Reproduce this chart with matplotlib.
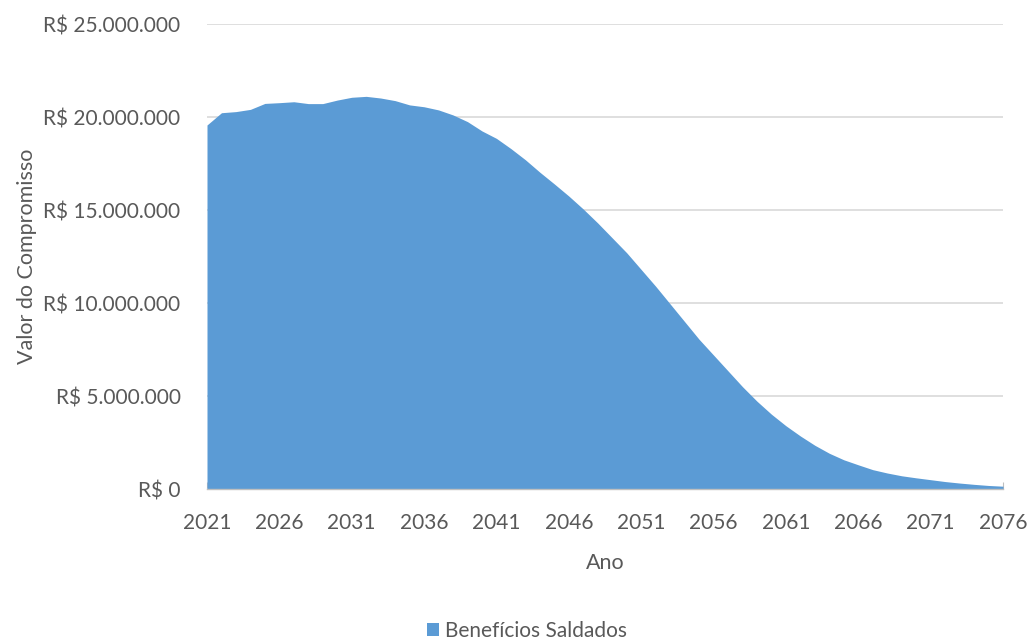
import matplotlib
matplotlib.use("Agg")
import matplotlib.pyplot as plt
from matplotlib.ticker import FuncFormatter, MultipleLocator
from matplotlib.patches import Patch

years = list(range(2021, 2077))
valores = [
    19.57, 20.23, 20.29, 20.41, 20.73, 20.77, 20.82, 20.72, 20.72, 20.91,
    21.06, 21.11, 21.02, 20.88, 20.65, 20.55, 20.38, 20.11, 19.75, 19.25,
    18.85, 18.30, 17.70, 17.03, 16.40, 15.75, 15.05, 14.30, 13.50, 12.70,
    11.80, 10.90, 9.95, 9.00, 8.05, 7.20, 6.35, 5.50, 4.72, 4.02,
    3.40, 2.85, 2.35, 1.92, 1.57, 1.30, 1.04, 0.86, 0.71, 0.60,
    0.50, 0.40, 0.32, 0.25, 0.19, 0.15,
]
valores = [v * 1e6 for v in valores]
x_ticks = list(range(2021, 2077, 5))
serie_nome = "Benefícios Saldados"

plt.rcParams['font.family'] = ['Lato', 'DejaVu Sans']
gray = '#595959'

fig = plt.figure(figsize=(10.31, 6.39), dpi=100)
ax = fig.add_axes([207/1031, 1-489/639, (1003-207)/1031, (489-24)/639])

color = '#5B9BD5'
ax.fill_between(years, valores, 0, color=color, linewidth=0, zorder=2)

ax.set_xlim(2021, 2076)
ax.set_ylim(0, 25e6)
ax.yaxis.set_major_locator(MultipleLocator(5e6))
ax.set_xticks(x_ticks)

def fmt(v, pos):
    if v == 0:
        return 'R$ 0'
    return 'R$ ' + f'{int(round(v)):,}'.replace(',', '.')
ax.yaxis.set_major_formatter(FuncFormatter(fmt))

ax.grid(axis='y', color='#d9d9d9', linewidth=1.2, zorder=1)
ax.set_axisbelow(True)
for s in ['top', 'right', 'left']:
    ax.spines[s].set_visible(False)
ax.spines['bottom'].set_color('#bfbfbf')
ax.spines['bottom'].set_linewidth(1.0)
ax.spines['bottom'].set_zorder(3)

ax.tick_params(axis='y', length=0, labelsize=15, labelcolor=gray, pad=19)
ax.tick_params(axis='x', direction='in', length=5, color='#bfbfbf', labelsize=15,
               labelcolor=gray, pad=17)

ax.set_xlabel('Ano', fontsize=15.5, color=gray, labelpad=15)
ax.set_ylabel('Valor do Compromisso', fontsize=15.5, color=gray, labelpad=5)

handles = [Patch(facecolor=color, edgecolor='none', label=serie_nome)]
fig.legend(handles=handles, loc='center', bbox_to_anchor=(527/1031, 1-631/639),
           frameon=False, fontsize=15, labelcolor=gray, handlelength=0.6,
           handleheight=0.6, handletextpad=0.3)

fig.savefig('out.png', dpi=100)
